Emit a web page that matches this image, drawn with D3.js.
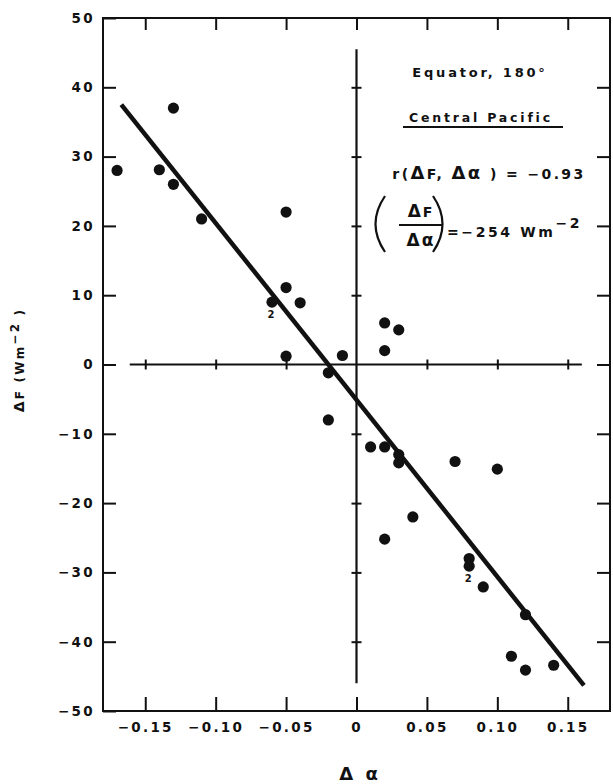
<!DOCTYPE html>
<html>
<head>
<meta charset="utf-8">
<script src="https://cdn.jsdelivr.net/npm/d3@7"></script>
<style>
  body { margin: 0; background: #fff; }
  svg { display: block; }
  text { font-family: 'DejaVu Sans', sans-serif; font-weight: bold; fill: #111; }
  .tick text { font-size: 13.5px; letter-spacing: 2.3px; }
  .tick line { stroke: #111; stroke-width: 2; }
</style>
</head>
<body>
<div id="chart"></div>
<script>
// data
const dAlpha = [-0.17, -0.13, -0.14, -0.13, -0.11, -0.05, -0.05, -0.06, -0.04, -0.05, -0.01, -0.02,
  0.02, 0.03, 0.02, -0.02, 0.01, 0.02, 0.03, 0.03, 0.07, 0.10, 0.04, 0.02, 0.08, 0.08, 0.09, 0.12, 0.11, 0.12, 0.14];
const dFlux = [28, 37, 28.1, 26, 21, 22, 11.1, 9, 8.9, 1.2, 1.3, -1.2,
  6, 5, 2, -8, -11.9, -11.9, -13, -14.2, -14, -15.1, -22, -25.2, -28, -29.1, -32.1, -36.1, -42.1, -44.1, -43.4];
// number of coincident observations (labelled "2")
const counts = [1, 1, 1, 1, 1, 1, 1, 2, 1, 1, 1, 1,
  1, 1, 1, 1, 1, 1, 1, 1, 1, 1, 1, 1, 1, 2, 1, 1, 1, 1, 1];
// least-squares line end points
const fitAlpha = [-0.167, 0.1615];
const fitFlux = [37.5, -46.3];

const xTicks = [-0.15, -0.10, -0.05, 0, 0.05, 0.10, 0.15];
const xTickLabels = ['\u22120.15', '\u22120.10', '\u22120.05', '0', '0.05', '0.10', '0.15'];
const yTicks = [-50, -40, -30, -20, -10, 0, 10, 20, 30, 40, 50];
const yTickLabels = ['\u221250', '\u221240', '\u221230', '\u221220', '\u221210', '0', '10', '20', '30', '40', '50'];

const W = 613, H = 784;
const svg = d3.select('#chart').append('svg').attr('width', W).attr('height', H);

const x = d3.scaleLinear().domain([-0.18, 0.18]).range([103, 610]);
const y = d3.scaleLinear().domain([-50, 50]).range([711, 18]);

// frame
svg.append('rect')
  .attr('x', x(-0.18)).attr('y', y(50))
  .attr('width', x(0.18) - x(-0.18)).attr('height', y(-50) - y(50))
  .attr('fill', 'none').attr('stroke', '#111').attr('stroke-width', 2);

// left axis with labels
svg.append('g')
  .attr('transform', `translate(${x(-0.18)},0)`)
  .call(d3.axisLeft(y).tickValues(yTicks).tickSizeInner(-13).tickSizeOuter(0).tickPadding(8)
    .tickFormat((d, i) => yTickLabels[i]))
  .call(g => g.select('.domain').remove());

// right axis ticks
svg.append('g')
  .attr('transform', `translate(${x(0.18)},0)`)
  .call(d3.axisRight(y).tickValues(yTicks.slice(1, -1)).tickSizeInner(-13).tickSizeOuter(0).tickFormat(''))
  .call(g => g.select('.domain').remove());

// bottom axis with labels
svg.append('g')
  .attr('transform', `translate(0,${y(-50)})`)
  .call(d3.axisBottom(x).tickValues(xTicks).tickSizeInner(-14).tickSizeOuter(0).tickPadding(11)
    .tickFormat((d, i) => xTickLabels[i]))
  .call(g => g.select('.domain').remove());

// top axis ticks
svg.append('g')
  .attr('transform', `translate(0,${y(50)})`)
  .call(d3.axisTop(x).tickValues(xTicks).tickSizeInner(-12).tickSizeOuter(0).tickFormat(''))
  .call(g => g.select('.domain').remove());

// inner zero axes
svg.append('line')
  .attr('x1', x(-0.161)).attr('x2', x(0.16)).attr('y1', y(0)).attr('y2', y(0))
  .attr('stroke', '#111').attr('stroke-width', 2);
svg.append('line')
  .attr('x1', x(0)).attr('x2', x(0)).attr('y1', y(45.5)).attr('y2', y(-46))
  .attr('stroke', '#111').attr('stroke-width', 2.2);

svg.append('g')
  .attr('transform', `translate(0,${y(0) - 5})`)
  .call(d3.axisBottom(x).tickValues(xTicks.filter(d => d !== 0)).tickSize(10).tickFormat(''))
  .call(g => g.select('.domain').remove());
svg.append('g')
  .attr('transform', `translate(${x(0) + 5},0)`)
  .call(d3.axisLeft(y).tickValues([-40, -30, -20, -10, 10, 20, 30, 40]).tickSize(10).tickFormat(''))
  .call(g => g.select('.domain').remove());

// fit line
svg.append('line')
  .attr('x1', x(fitAlpha[0])).attr('y1', y(fitFlux[0]))
  .attr('x2', x(fitAlpha[1])).attr('y2', y(fitFlux[1]))
  .attr('stroke', '#111').attr('stroke-width', 4.5);

// points
const pts = dAlpha.map((a, i) => ({ a, f: dFlux[i], n: counts[i] }));
svg.append('g').selectAll('circle')
  .data(pts)
  .join('circle')
  .attr('cx', d => x(d.a))
  .attr('cy', d => y(d.f))
  .attr('r', 5.6)
  .attr('fill', '#111');

svg.append('g').selectAll('text')
  .data(pts.filter(d => d.n > 1))
  .join('text')
  .attr('x', d => x(d.a) - 1)
  .attr('y', d => y(d.f) + 16)
  .attr('text-anchor', 'middle')
  .attr('font-size', 10)
  .text(d => d.n);

// axis titles
svg.append('text')
  .attr('transform', 'translate(24,360) rotate(-90)')
  .attr('text-anchor', 'middle')
  .attr('font-size', 12)
  .attr('letter-spacing', 2.2)
  .html('<tspan font-size="14">\u0394</tspan>F (Wm<tspan dy="-5">\u2212</tspan>2<tspan dy="5"> </tspan>)');

svg.append('text')
  .attr('x', 360).attr('y', 780)
  .attr('text-anchor', 'middle')
  .attr('font-size', 18)
  .attr('letter-spacing', 3)
  .text('\u0394 \u03b1');

// annotation block
const ann = svg.append('g');
ann.append('text')
  .attr('x', 480).attr('y', 77)
  .attr('text-anchor', 'middle')
  .attr('font-size', 13)
  .attr('letter-spacing', 2.8)
  .text('Equator, 180\u00b0');

ann.append('text')
  .attr('x', 481).attr('y', 122)
  .attr('text-anchor', 'middle')
  .attr('font-size', 12.5)
  .attr('letter-spacing', 2.8)
  .text('Central Pacific');
ann.append('line')
  .attr('x1', 403).attr('x2', 563).attr('y1', 127).attr('y2', 127)
  .attr('stroke', '#111').attr('stroke-width', 2);

ann.append('text')
  .attr('x', 489).attr('y', 179)
  .attr('text-anchor', 'middle')
  .attr('font-size', 14)
  .attr('letter-spacing', 2.4)
  .html('r(<tspan font-size="18">\u0394</tspan>F, <tspan font-size="18">\u0394\u03b1</tspan> ) = \u22120.93');

// fraction with parentheses
ann.append('text')
  .attr('x', 421).attr('y', 217)
  .attr('text-anchor', 'middle')
  .attr('font-size', 14)
  .attr('letter-spacing', 2)
  .html('<tspan font-size="17">\u0394</tspan>F');
ann.append('line')
  .attr('x1', 399).attr('x2', 443).attr('y1', 225).attr('y2', 225)
  .attr('stroke', '#111').attr('stroke-width', 2);
ann.append('text')
  .attr('x', 421).attr('y', 246)
  .attr('text-anchor', 'middle')
  .attr('font-size', 17)
  .attr('letter-spacing', 2)
  .text('\u0394\u03b1');
const paren = d3.path();
paren.moveTo(385, 196); paren.quadraticCurveTo(366, 224, 385, 252);
paren.moveTo(433, 196); paren.quadraticCurveTo(452, 224, 433, 252);
ann.append('path').attr('d', paren.toString())
  .attr('fill', 'none').attr('stroke', '#111').attr('stroke-width', 2.2);

ann.append('text')
  .attr('x', 447).attr('y', 237)
  .attr('font-size', 14)
  .attr('letter-spacing', 2.6)
  .html('=\u2212254  Wm<tspan dy="-9">\u22122</tspan>');
</script>
</body>
</html>
